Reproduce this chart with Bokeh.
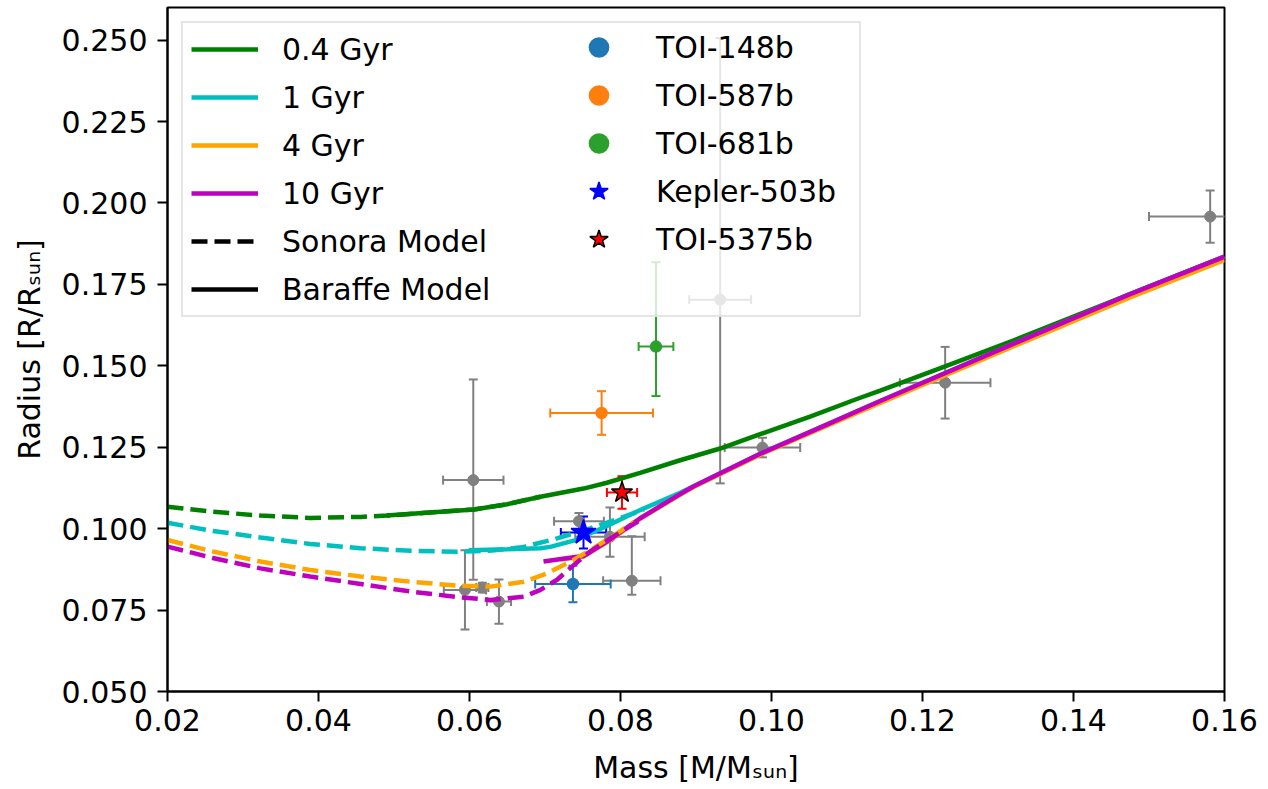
from bokeh.plotting import figure
from bokeh.models import (ColumnDataSource, Whisker, TeeHead, Legend, LegendItem,
                          FixedTicker, Range1d, CDSView, IndexFilter)
from bokeh.embed import file_html
from bokeh.resources import INLINE

NAN = float("nan")

# ---------------- axis ticks ----------------
x_ticks = [0.02, 0.04, 0.06, 0.08, 0.10, 0.12, 0.14, 0.16]
x_tick_labels = ["0.02", "0.04", "0.06", "0.08", "0.10", "0.12", "0.14", "0.16"]
y_ticks = [0.050, 0.075, 0.100, 0.125, 0.150, 0.175, 0.200, 0.225, 0.250]
y_tick_labels = ["0.050", "0.075", "0.100", "0.125", "0.150", "0.175", "0.200", "0.225", "0.250"]

# ---------------- Sonora models (dashed) ----------------
sonora_mass_04 = [0.020, 0.026, 0.0323, 0.0389, 0.0456, 0.0491, 0.0562, 0.0606, 0.0650, 0.0694]
sonora_rad_04 = [0.1067, 0.1052, 0.1040, 0.1033, 0.1036, 0.1040, 0.1052, 0.1059, 0.1075, 0.1098]

sonora_mass_1 = [0.020, 0.026, 0.0323, 0.0389, 0.0456, 0.0522, 0.0584, 0.0630, 0.0672, 0.0716, 0.0760, 0.0804, 0.0831]
sonora_rad_1 = [0.1018, 0.0993, 0.0973, 0.0953, 0.0940, 0.0932, 0.0929, 0.0933, 0.0944, 0.0970, 0.1001, 0.1036, 0.1059]

sonora_mass_4 = [0.020, 0.026, 0.0323, 0.0389, 0.0456, 0.0522, 0.0584, 0.0628, 0.0672, 0.0703, 0.0738, 0.0760, 0.0796, 0.0818]
sonora_rad_4 = [0.0965, 0.0930, 0.0899, 0.0873, 0.0853, 0.0837, 0.0825, 0.0822, 0.0837, 0.0863, 0.0904, 0.0934, 0.0986, 0.1021]

sonora_mass_10 = [0.020, 0.026, 0.0323, 0.0389, 0.0456, 0.0522, 0.0584, 0.0628, 0.0672, 0.0694, 0.0716, 0.0738, 0.0760, 0.0790, 0.0825]
sonora_rad_10 = [0.0945, 0.0910, 0.0878, 0.0853, 0.0830, 0.0807, 0.0790, 0.0781, 0.0791, 0.0812, 0.0843, 0.0888, 0.0930, 0.0975, 0.1025]

# ---------------- Baraffe models (solid) ----------------
baraffe_mass_04 = [0.049, 0.0562, 0.0606, 0.0650, 0.0694, 0.0751, 0.0782, 0.0826, 0.0879, 0.0932, 0.0985,
                   0.1052, 0.1113, 0.1144, 0.1230, 0.1321, 0.1475, 0.1600]
baraffe_rad_04 = [0.1040, 0.1052, 0.1059, 0.1075, 0.1098, 0.1123, 0.1141, 0.1171, 0.1210, 0.1246, 0.1290,
                  0.1345, 0.1398, 0.1424, 0.1498, 0.1578, 0.1720, 0.1835]

baraffe_mass_1 = [0.0599, 0.0650, 0.0694, 0.0707, 0.0738, 0.0782, 0.0826, 0.0879, 0.0897, 0.0985, 0.1074,
                  0.1144, 0.1321, 0.1475, 0.1600]
baraffe_rad_1 = [0.0934, 0.0937, 0.0940, 0.0944, 0.0963, 0.1008, 0.1057, 0.1110, 0.1130, 0.1230, 0.1320,
                 0.1392, 0.1568, 0.1720, 0.1835]

baraffe_mass_4 = [0.0720, 0.0751, 0.0782, 0.0826, 0.0879, 0.0897, 0.0985, 0.1074, 0.1144, 0.1321, 0.1475, 0.1600]
baraffe_rad_4 = [0.0905, 0.0914, 0.0958, 0.1030, 0.1104, 0.1128, 0.1227, 0.1316, 0.1386, 0.1560, 0.1710, 0.1825]

baraffe_mass_10 = [0.0698, 0.0738, 0.0751, 0.0782, 0.0826, 0.0879, 0.0897, 0.0985, 0.1074, 0.1144, 0.1321,
                   0.1475, 0.1600]
baraffe_rad_10 = [0.0899, 0.0912, 0.0916, 0.0960, 0.1032, 0.1106, 0.1130, 0.1230, 0.1320, 0.1392, 0.1568,
                  0.1720, 0.1835]

# ---------------- background objects (gray) ----------------
gray_mass = [0.0605, 0.0594, 0.0617, 0.0639, 0.0745, 0.0786, 0.0815, 0.0988, 0.0932, 0.1230, 0.1581]
gray_mass_err = [0.0040, 0.0028, 0.0008, 0.0016, 0.0033, 0.0046, 0.0038, 0.0050, 0.0041, 0.0060, 0.0081]
gray_rad = [0.1149, 0.0812, 0.0819, 0.0776, 0.1023, 0.0975, 0.0840, 0.1249, 0.1703, 0.1448, 0.1958]
gray_rad_err_lo = [0.0306, 0.0122, 0.0015, 0.0068, 0.0025, 0.0061, 0.0043, 0.0030, 0.0564, 0.0110, 0.0080]
gray_rad_err_hi = [0.0309, 0.0122, 0.0015, 0.0068, 0.0025, 0.0090, 0.0137, 0.0030, 0.0803, 0.0110, 0.0080]

# ---------------- highlighted planets ----------------
planet_names = ["TOI-148b", "TOI-587b", "TOI-681b", "Kepler-503b", "TOI-5375b"]
planet_mass = [0.0737, 0.0775, 0.0847, 0.0751, 0.0802]
planet_mass_err = [0.0050, 0.0068, 0.0023, 0.0030, 0.0020]
planet_rad = [0.0830, 0.1355, 0.1559, 0.0988, 0.1111]
planet_rad_err_lo = [0.0056, 0.0067, 0.0152, 0.0049, 0.0050]
planet_rad_err_hi = [0.0056, 0.0067, 0.0259, 0.0049, 0.0050]
planet_colors = ["#1f77b4", "#ff7f0e", "#2ca02c", "#0000ff", "#ff0000"]
planet_markers = ["circle", "circle", "circle", "star", "star"]
planet_sizes = [11, 11, 11, 26, 22]
planet_edges = ["#1f77b4", "#ff7f0e", "#2ca02c", "#0000ff", "#000000"]

age_labels = ["0.4 Gyr", "1 Gyr", "4 Gyr", "10 Gyr"]
age_colors = ["#008000", "#00bfbf", "#ffa500", "#bf00bf"]

FONT = "DejaVu Sans"
FS = "30px"
LW = 4.5
DASH = "16 7"
GRAY = "#808080"

p = figure(width=1266, height=787, output_backend="svg", toolbar_location=None,
           x_range=Range1d(0.02, 0.16), y_range=Range1d(0.05, 0.26),
           min_border_left=167, min_border_right=42, min_border_top=7, min_border_bottom=95)
p.background_fill_color = "white"
p.border_fill_color = "white"
p.outline_line_color = "black"
p.outline_line_width = 2
p.grid.visible = False

p.xaxis.ticker = FixedTicker(ticks=x_ticks)
p.yaxis.ticker = FixedTicker(ticks=y_ticks)
p.xaxis.major_label_overrides = dict(zip(x_ticks, x_tick_labels))
p.yaxis.major_label_overrides = dict(zip(y_ticks, y_tick_labels))
for ax in (p.xaxis, p.yaxis):
    ax.major_label_text_font = FONT
    ax.major_label_text_font_size = FS
    ax.major_label_text_color = "black"
    ax.axis_label_text_font = FONT
    ax.axis_label_text_font_size = FS
    ax.axis_label_text_font_style = "normal"
    ax.axis_label_text_color = "black"
    ax.axis_line_color = "black"
    ax.axis_line_width = 2
    ax.major_tick_line_color = "black"
    ax.major_tick_line_width = 2
    ax.major_tick_out = 10
    ax.major_tick_in = 0
    ax.minor_tick_line_color = None
p.xaxis.major_label_standoff = 7
p.yaxis.major_label_standoff = 10
p.xaxis.axis_label_standoff = 16
p.yaxis.axis_label_standoff = 12
p.xaxis.axis_label = "Mass [M/M\u209b\u1d64\u2099]"
p.yaxis.axis_label = "Radius [R/R\u209b\u1d64\u2099]"

# gray background objects (below the models)
gsrc = ColumnDataSource(dict(
    x=gray_mass, y=gray_rad,
    xl=[m - e for m, e in zip(gray_mass, gray_mass_err)],
    xu=[m + e for m, e in zip(gray_mass, gray_mass_err)],
    yl=[r - e for r, e in zip(gray_rad, gray_rad_err_lo)],
    yu=[r + e for r, e in zip(gray_rad, gray_rad_err_hi)],
))
for dim, base, lo, up in (("height", "x", "yl", "yu"), ("width", "y", "xl", "xu")):
    w = Whisker(source=gsrc, base=base, lower=lo, upper=up, dimension=dim,
                line_color=GRAY, line_width=2, level="underlay",
                lower_head=TeeHead(size=9, line_color=GRAY, line_width=2),
                upper_head=TeeHead(size=9, line_color=GRAY, line_width=2))
    p.add_layout(w)
p.scatter("x", "y", source=gsrc, size=11, color=GRAY)

# Baraffe solid lines
baraffe = [(baraffe_mass_04, baraffe_rad_04), (baraffe_mass_1, baraffe_rad_1),
           (baraffe_mass_4, baraffe_rad_4), (baraffe_mass_10, baraffe_rad_10)]
solid_renderers = []
for (mx, ry), c in zip(baraffe, age_colors):
    solid_renderers.append(p.line(mx, ry, line_color=c, line_width=LW))

# Sonora dashed lines
sonora = [(sonora_mass_04, sonora_rad_04), (sonora_mass_1, sonora_rad_1),
          (sonora_mass_4, sonora_rad_4), (sonora_mass_10, sonora_rad_10)]
for (mx, ry), c in zip(sonora, age_colors):
    p.line(mx, ry, line_color=c, line_width=LW, line_dash=DASH)

# legend-only style keys (NaN data -> nothing drawn in the plot)
sonora_key = p.line(x=[NAN], y=[NAN], line_color="black", line_width=LW, line_dash=DASH)
baraffe_key = p.line(x=[NAN], y=[NAN], line_color="black", line_width=LW)

# highlighted planets
planet_items = []
for i, name in enumerate(planet_names):
    c = planet_colors[i]
    src = ColumnDataSource(dict(
        x=[planet_mass[i]], y=[planet_rad[i]],
        xl=[planet_mass[i] - planet_mass_err[i]], xu=[planet_mass[i] + planet_mass_err[i]],
        yl=[planet_rad[i] - planet_rad_err_lo[i]], yu=[planet_rad[i] + planet_rad_err_hi[i]],
    ))
    for dim, base, lo, up in (("height", "x", "yl", "yu"), ("width", "y", "xl", "xu")):
        w = Whisker(source=src, base=base, lower=lo, upper=up, dimension=dim,
                    line_color=c, line_width=2,
                    lower_head=TeeHead(size=9, line_color=c, line_width=2),
                    upper_head=TeeHead(size=9, line_color=c, line_width=2))
        p.add_layout(w)
    # error-bar key for the legend icon only (filtered out of the plot itself)
    key = p.scatter("x", "y", source=src, view=CDSView(filter=IndexFilter(indices=[])),
                    marker="cross", size=32, line_color=c, line_width=2)
    r = p.scatter("x", "y", source=src, marker=planet_markers[i], size=planet_sizes[i],
                  fill_color=c, line_color=planet_edges[i], line_width=1.5)
    planet_items.append(LegendItem(label=name, renderers=[key, r]))

left_items = [LegendItem(label=lab, renderers=[rr]) for lab, rr in zip(age_labels, solid_renderers)]
left_items.append(LegendItem(label="Sonora Model", renderers=[sonora_key]))
left_items.append(LegendItem(label="Baraffe Model", renderers=[baraffe_key]))

common = dict(orientation="vertical", glyph_width=67, label_standoff=24,
              label_text_font=FONT, label_text_font_size=FS, label_text_color="black")

legend_left = Legend(items=left_items, location="top_left", margin=14, label_width=569,
                     padding=8, spacing=12, glyph_height=36, label_height=36,
                     background_fill_color="white", background_fill_alpha=0.8,
                     border_line_color="#cccccc", border_line_width=2, **common)
legend_right = Legend(items=planet_items, location=(398, 428), label_width=20,
                      padding=8, spacing=0, glyph_height=48, label_height=48,
                      background_fill_alpha=0.0, border_line_color=None, **common)
p.add_layout(legend_left)
p.add_layout(legend_right)

open("out.html", "w").write(file_html(p, INLINE))
